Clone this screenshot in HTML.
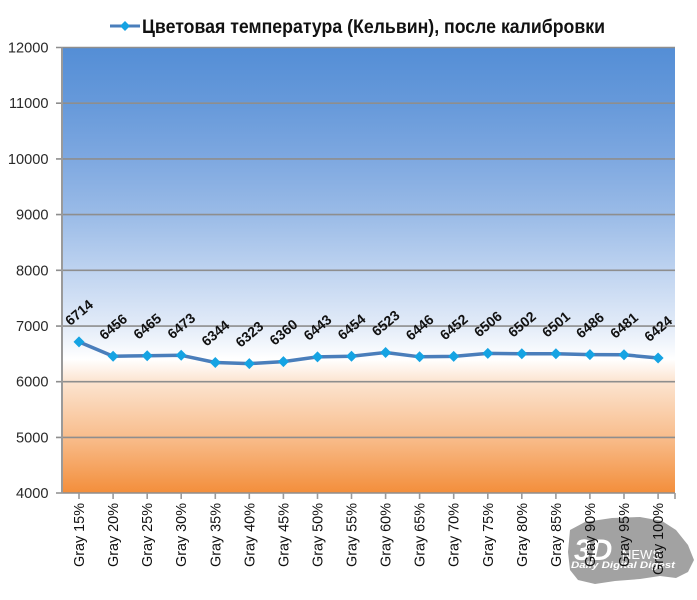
<!DOCTYPE html>
<html><head><meta charset="utf-8"><style>
html,body{margin:0;padding:0;background:#fff;}
svg{display:block;}
text{font-family:"Liberation Sans",Arial,sans-serif;}
</style></head><body>
<svg width="697" height="600" viewBox="0 0 697 600" xmlns="http://www.w3.org/2000/svg">
<defs>
<linearGradient id="bg" x1="0" y1="0" x2="0" y2="1">
<stop offset="0" stop-color="#548ED6"/>
<stop offset="0.125" stop-color="#6699DA"/>
<stop offset="0.25" stop-color="#7EA8E0"/>
<stop offset="0.375" stop-color="#9ABBE7"/>
<stop offset="0.5" stop-color="#BED3F0"/>
<stop offset="0.625" stop-color="#E2EBF8"/>
<stop offset="0.70" stop-color="#FFFFFF"/>
<stop offset="0.75" stop-color="#FCE4D0"/>
<stop offset="0.875" stop-color="#F8BD8C"/>
<stop offset="1" stop-color="#F38E3B"/>
</linearGradient>
</defs>
<rect x="0" y="0" width="697" height="600" fill="#fff"/>
<!-- title / legend -->
<line x1="110" y1="26" x2="140" y2="26" stroke="#4A7EBB" stroke-width="3"/>
<polygon points="125,21 130,26 125,31 120,26" fill="#15A3E3"/>
<text x="142" y="33" font-size="19.5" font-weight="bold" fill="#111" textLength="463" lengthAdjust="spacingAndGlyphs">Цветовая температура (Кельвин), после калибровки</text>
<!-- plot area -->
<rect x="62" y="47.5" width="613" height="445.5" fill="url(#bg)"/>
<g stroke="#8E8E8E" stroke-width="1.6">
<line x1="56" y1="47.5" x2="675" y2="47.5"/>
<line x1="56" y1="103.2" x2="675" y2="103.2"/>
<line x1="56" y1="158.9" x2="675" y2="158.9"/>
<line x1="56" y1="214.6" x2="675" y2="214.6"/>
<line x1="56" y1="270.3" x2="675" y2="270.3"/>
<line x1="56" y1="326.1" x2="675" y2="326.1"/>
<line x1="56" y1="381.7" x2="675" y2="381.7"/>
<line x1="56" y1="437.4" x2="675" y2="437.4"/>
<line x1="56" y1="493" x2="675" y2="493"/>
</g>
<line x1="62" y1="47.5" x2="62" y2="493" stroke="#9A9A9A" stroke-width="2"/>
<g stroke="#9A9A9A" stroke-width="1.6">
<line x1="79" y1="493" x2="79" y2="499"/><line x1="113.1" y1="493" x2="113.1" y2="499"/>
<line x1="147.2" y1="493" x2="147.2" y2="499"/><line x1="181.2" y1="493" x2="181.2" y2="499"/>
<line x1="215.3" y1="493" x2="215.3" y2="499"/><line x1="249.3" y1="493" x2="249.3" y2="499"/>
<line x1="283.4" y1="493" x2="283.4" y2="499"/><line x1="317.5" y1="493" x2="317.5" y2="499"/>
<line x1="351.5" y1="493" x2="351.5" y2="499"/><line x1="385.6" y1="493" x2="385.6" y2="499"/>
<line x1="419.6" y1="493" x2="419.6" y2="499"/><line x1="453.7" y1="493" x2="453.7" y2="499"/>
<line x1="487.8" y1="493" x2="487.8" y2="499"/><line x1="521.8" y1="493" x2="521.8" y2="499"/>
<line x1="555.9" y1="493" x2="555.9" y2="499"/><line x1="589.9" y1="493" x2="589.9" y2="499"/>
<line x1="624" y1="493" x2="624" y2="499"/><line x1="658.1" y1="493" x2="658.1" y2="499"/>
<line x1="675" y1="493" x2="675" y2="499"/>
</g>
<!-- y labels -->
<g font-size="14.6" fill="#2a2a2a" text-anchor="end">
<text x="48.5" y="52.5">12000</text>
<text x="48.5" y="108.2">11000</text>
<text x="48.5" y="163.9">10000</text>
<text x="48.5" y="219.6">9000</text>
<text x="48.5" y="275.3">8000</text>
<text x="48.5" y="331.1">7000</text>
<text x="48.5" y="386.7">6000</text>
<text x="48.5" y="442.4">5000</text>
<text x="48.5" y="498">4000</text>
</g>
<!-- watermark -->
<g opacity="0.8">
<path d="M570,530 L585,522 L612,518 L640,517 L662,521 L676,530 L688,545 L694,560 L688,572 L676,578 L660,576 L640,579 L615,581 L595,584 L578,580 L570,570 L568,552 Z" fill="#8C8C8C"/>
<text x="574" y="560" font-size="30" font-weight="bold" fill="#fff" font-style="italic">3D</text>
<text x="622" y="559" font-size="13" fill="#fff">NEWS</text>
<text x="571" y="568" font-size="9" font-weight="bold" font-style="italic" fill="#fff" textLength="104" lengthAdjust="spacingAndGlyphs">Daily Digital Digest</text>
</g>
<!-- x labels -->
<g font-size="14.4" fill="#111" text-anchor="end">
<text transform="translate(84,503) rotate(-90)">Gray 15%</text>
<text transform="translate(118.1,503) rotate(-90)">Gray 20%</text>
<text transform="translate(152.2,503) rotate(-90)">Gray 25%</text>
<text transform="translate(186.2,503) rotate(-90)">Gray 30%</text>
<text transform="translate(220.3,503) rotate(-90)">Gray 35%</text>
<text transform="translate(254.3,503) rotate(-90)">Gray 40%</text>
<text transform="translate(288.4,503) rotate(-90)">Gray 45%</text>
<text transform="translate(322.5,503) rotate(-90)">Gray 50%</text>
<text transform="translate(356.5,503) rotate(-90)">Gray 55%</text>
<text transform="translate(390.6,503) rotate(-90)">Gray 60%</text>
<text transform="translate(424.6,503) rotate(-90)">Gray 65%</text>
<text transform="translate(458.7,503) rotate(-90)">Gray 70%</text>
<text transform="translate(492.8,503) rotate(-90)">Gray 75%</text>
<text transform="translate(526.8,503) rotate(-90)">Gray 80%</text>
<text transform="translate(560.9,503) rotate(-90)">Gray 85%</text>
<text transform="translate(594.9,503) rotate(-90)">Gray 90%</text>
<text transform="translate(629,503) rotate(-90)">Gray 95%</text>
<text transform="translate(663.1,503) rotate(-90)">Gray 100%</text>
</g>
<!-- series line -->
<polyline fill="none" stroke="#4A7EBB" stroke-width="3.5" stroke-linejoin="round" points="79,341.9 113.1,356.2 147.2,355.7 181.2,355.3 215.3,362.5 249.3,363.6 283.4,361.6 317.5,356.9 351.5,356.3 385.6,352.5 419.6,356.8 453.7,356.4 487.8,353.4 521.8,353.7 555.9,353.7 589.9,354.6 624,354.8 658.1,358"/>
<g fill="#15A3E3">
<polygon points="79,336.4 84.5,341.9 79,347.4 73.5,341.9"/>
<polygon points="113.1,350.7 118.6,356.2 113.1,361.7 107.6,356.2"/>
<polygon points="147.2,350.2 152.7,355.7 147.2,361.2 141.7,355.7"/>
<polygon points="181.2,349.8 186.7,355.3 181.2,360.8 175.7,355.3"/>
<polygon points="215.3,357 220.8,362.5 215.3,368 209.8,362.5"/>
<polygon points="249.3,358.1 254.8,363.6 249.3,369.1 243.8,363.6"/>
<polygon points="283.4,356.1 288.9,361.6 283.4,367.1 277.9,361.6"/>
<polygon points="317.5,351.4 323,356.9 317.5,362.4 312,356.9"/>
<polygon points="351.5,350.8 357,356.3 351.5,361.8 346,356.3"/>
<polygon points="385.6,347 391.1,352.5 385.6,358 380.1,352.5"/>
<polygon points="419.6,351.3 425.1,356.8 419.6,362.3 414.1,356.8"/>
<polygon points="453.7,350.9 459.2,356.4 453.7,361.9 448.2,356.4"/>
<polygon points="487.8,347.9 493.3,353.4 487.8,358.9 482.3,353.4"/>
<polygon points="521.8,348.2 527.3,353.7 521.8,359.2 516.3,353.7"/>
<polygon points="555.9,348.2 561.4,353.7 555.9,359.2 550.4,353.7"/>
<polygon points="589.9,349.1 595.4,354.6 589.9,360.1 584.4,354.6"/>
<polygon points="624,349.3 629.5,354.8 624,360.3 618.5,354.8"/>
<polygon points="658.1,352.5 663.6,358 658.1,363.5 652.6,358"/>
</g>
<!-- data labels -->
<g font-size="14" font-weight="bold" fill="#111" text-anchor="middle">
<text transform="translate(79,312.4) rotate(-40)" y="5">6714</text>
<text transform="translate(113.1,326.7) rotate(-40)" y="5">6456</text>
<text transform="translate(147.2,326.2) rotate(-40)" y="5">6465</text>
<text transform="translate(181.2,325.8) rotate(-40)" y="5">6473</text>
<text transform="translate(215.3,333) rotate(-40)" y="5">6344</text>
<text transform="translate(249.3,334.1) rotate(-40)" y="5">6323</text>
<text transform="translate(283.4,332.1) rotate(-40)" y="5">6360</text>
<text transform="translate(317.5,327.4) rotate(-40)" y="5">6443</text>
<text transform="translate(351.5,326.8) rotate(-40)" y="5">6454</text>
<text transform="translate(385.6,323) rotate(-40)" y="5">6523</text>
<text transform="translate(419.6,327.3) rotate(-40)" y="5">6446</text>
<text transform="translate(453.7,326.9) rotate(-40)" y="5">6452</text>
<text transform="translate(487.8,323.9) rotate(-40)" y="5">6506</text>
<text transform="translate(521.8,324.2) rotate(-40)" y="5">6502</text>
<text transform="translate(555.9,324.2) rotate(-40)" y="5">6501</text>
<text transform="translate(589.9,325.1) rotate(-40)" y="5">6486</text>
<text transform="translate(624,325.3) rotate(-40)" y="5">6481</text>
<text transform="translate(658.1,328.5) rotate(-40)" y="5">6424</text>
</g>
</svg>
</body></html>
